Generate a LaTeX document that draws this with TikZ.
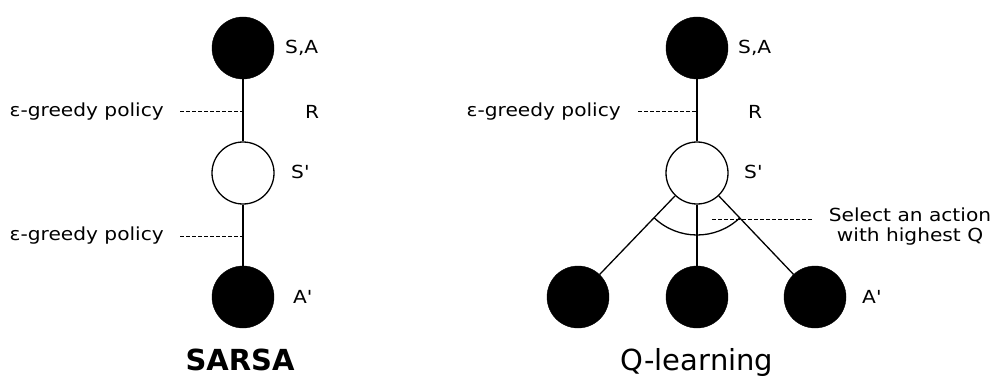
\documentclass[tikz,border=0pt]{standalone}
\usepackage{fontspec}
\setmainfont{DejaVu Sans}
\newfontfamily\labfont{DejaVu Sans}[FakeStretch=1.12]
\newcommand{\tick}{{\char"27}}
\begin{document}
\begin{tikzpicture}[x=1pt,y=1pt,
  every node/.style={inner sep=0pt, font=\labfont\fontsize{18}{20}\selectfont},
  fullstate/.style={circle, fill=black, draw=black, minimum size=62pt},
  openstate/.style={circle, fill=white, draw=black, line width=1.3pt, minimum size=62pt},
  link/.style={line width=1.3pt},
  hint/.style={dashed, line width=1pt, dash pattern=on 3.5pt off 2.5pt},
  title/.style={font=\rmfamily\fontsize{29}{34}\selectfont, anchor=base}]
\useasboundingbox (0,0) rectangle (1008,378);

% SARSA backup
\node[fullstate] (sa1) at (243,330) {};
\node[openstate] (s1) at (243,205) {};
\node[fullstate] (a1) at (243,81) {};
\draw[link] (sa1) -- (s1);
\draw[link] (s1) -- (a1);
\node[anchor=west] (lsa1) at (285,330) {S,A};
\node (lr1) at (312,266) {R};
\node[anchor=west] (ls1) at (291,206) {S\tick};
\node[anchor=west] (la1) at (293,81) {A\tick};
\coordinate (p1) at (243,266);
\coordinate (p2) at (243,142);
\node[anchor=east] (e1) at (164,266) {ε-greedy policy};
\node[anchor=east] (e2) at (164,142) {ε-greedy policy};
\draw[hint] (180,266) -- (p1);
\draw[hint] (180,142) -- (p2);
\node[title, font=\rmfamily\fontsize{29}{34}\selectfont\bfseries] (t1) at (240,8) {SARSA};

% Q-learning backup
\node[fullstate] (sa2) at (697,330) {};
\node[openstate] (s2) at (697,205) {};
\node[fullstate] (q1) at (578,81) {};
\node[fullstate] (q2) at (697,81) {};
\node[fullstate] (q3) at (815,81) {};
\draw[link] (sa2) -- (s2);
\draw[link] (s2) -- (q1);
\draw[link] (s2) -- (q2);
\draw[link] (s2) -- (q3);
\draw[link] ([shift={(226.2:62pt)}]s2.center) arc[start angle=226.2, end angle=313.6, radius=62pt];
\node[anchor=west] (lsa2) at (738,330) {S,A};
\node (lr2) at (755,266) {R};
\node[anchor=west] (ls2) at (744,206) {S\tick};
\node[anchor=west] (la2) at (862,81) {A\tick};
\coordinate (p3) at (697,266);
\node[anchor=east] (e3) at (621,266) {ε-greedy policy};
\draw[hint] (638,266) -- (p3);
\coordinate (m1) at (712,159);
\node[align=center] (sel) at (910,151) {Select an action\\with highest Q};
\draw[hint] (m1) -- (813,159);
\node[title] (t2) at (697,8) {Q-learning};
\end{tikzpicture}
\end{document}
